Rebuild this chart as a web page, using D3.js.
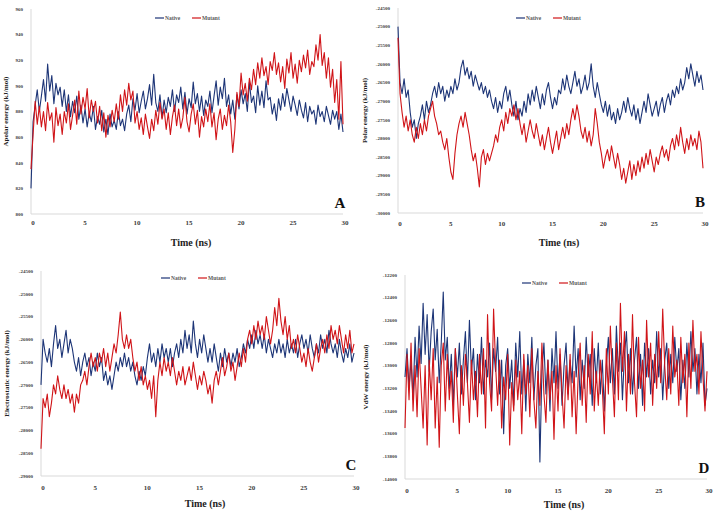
<!DOCTYPE html>
<html><head><meta charset="utf-8">
<script src="https://cdn.jsdelivr.net/npm/d3@7"></script>
<style>body{margin:0;background:#fff}svg{display:block}text{font-family:"Liberation Serif","Times New Roman",serif;font-weight:bold}</style>
</head><body>
<script>
// ---- data ----
const stepNs = 0.2; // sampling interval, t = 0 .. 30 ns
const seriesNames = ["Native", "Mutant"];
const xTicks = [0, 5, 10, 15, 20, 25, 30];

const apolarNative = [820,
872,885,897,880,892, 905,888,917,896,908, 886,902,893,899,884, 897,880,893,876,888, 879,892,874,885,871,
882,868,879,872,884, 866,876,870,881,864, 874,862,878,868,873, 866,880,869,874,865, 878,885,872,890,881,
894,879,888,896,882, 890,901,885,909,887, 880,893,875,889,879, 891,884,897,880,893, 887,899,882,895,878,
890,883,903,886,894, 880,892,877,889,884, 896,879,892,904,885, 899,890,906,884,893, 878,889,874,893,882,
897,886,894,880,903, 887,892,879,900,885, 896,883,904,889,891, 878,886,873,890,881, 894,884,898,889,880,
892,885,877,889,881, 875,887,872,884,878, 881,870,885,876,880, 872,884,877,870,881, 874,880,866,878,864];
const apolarMutant = [835,
862,888,870,884,868, 880,865,887,873,879, 856,883,869,878,862, 880,871,886,866,877, 889,870,896,878,891,
882,898,875,889,880, 888,871,884,865,879, 860,877,868,881,872, 886,874,893,880,897, 885,902,889,896,871,
880,866,875,862,878, 868,859,874,865,881, 870,887,874,882,866, 879,862,876,885,869, 882,867,875,891,872,
864,878,886,870,881, 860,876,868,882,872, 886,868,879,858,874, 882,866,877,869,885, 872,848,866,895,884,
910,893,902,888,906, 897,913,901,918,906, 922,908,915,901,919, 912,926,909,918,903, 915,898,921,910,926,
906,917,902,920,911, 924,914,928,909,919, 915,932,920,940,916, 926,906,922,899,913, 887,905,874,919,870];

const polarNative = [-25000,
-26500,-26800,-26400,-26900,-26700, -27300,-27700,-27500,-28000,-27600, -27400,-27100,-27500,-27000,-27300,
-27100,-26800,-26600,-26900,-26500, -26800,-26600,-27000,-26700,-26900, -26600,-26800,-26400,-26700,-26500,
-26100,-25900,-26300,-26100,-26400, -26200,-26600,-26300,-26500,-26700, -26500,-26800,-26600,-26900,-26700,
-27000,-27200,-26900,-27300,-27000, -27200,-26800,-26600,-27000,-26700, -27100,-27400,-27000,-27500,-27200,
-27400,-27000,-27300,-26800,-27100, -26700,-27000,-26600,-26900,-27200, -26800,-27100,-26700,-26500,-26900,
-27200,-26900,-27100,-26700,-26800, -26400,-26700,-26300,-26600,-26800, -26500,-26200,-26600,-26400,-26800,
-26600,-26300,-26700,-26500,-26000, -26600,-26900,-26500,-26800,-27100, -27300,-27000,-27400,-27100,-27500,
-27300,-27600,-27200,-27500,-27300, -27000,-27300,-26900,-27200,-27400, -27100,-27500,-27200,-27600,-27300,
-27000,-27300,-26800,-27100,-27400, -27200,-27000,-27400,-27100,-26900, -27300,-27000,-26800,-27100,-26700,
-26900,-26600,-26800,-26400,-26700, -26500,-26100,-26400,-26000,-26300, -26600,-26200,-26500,-26300,-26700];
const polarMutant = [-25300,
-26800,-27300,-27700,-27400,-27800, -27500,-27900,-28100,-27700,-28000, -27600,-27900,-27500,-27800,-27400,
-27200,-27000,-27400,-27600,-27900, -27800,-28100,-28300,-28000,-28500, -28900,-29100,-28400,-27900,-27600,
-27400,-27700,-27300,-27600,-27900, -28300,-28600,-28400,-28800,-29300, -28500,-28300,-28700,-28400,-28600,
-28400,-28200,-27900,-28100,-27700, -27500,-27800,-27300,-27600,-27200, -27400,-27100,-27500,-27200,-27600,
-27900,-27600,-28100,-27800,-27500, -27800,-28000,-27600,-27900,-28200, -27900,-28300,-28000,-27700,-28100,
-28400,-28100,-27800,-28300,-28000, -27700,-28000,-27600,-27900,-27500, -27200,-27500,-27100,-27400,-27800,
-28000,-27700,-28100,-27800,-28200, -27900,-27200,-27600,-28100,-28400, -28800,-28500,-28300,-28600,-28200,
-28500,-28800,-28400,-28700,-29100, -28800,-29200,-28900,-28600,-29100, -28700,-29000,-28600,-28900,-28500,
-28800,-28400,-28700,-28300,-28600, -28900,-28500,-28700,-28400,-28200, -28500,-28300,-28600,-28200,-28000,
-28300,-27900,-28200,-27700,-28100, -28400,-28000,-28300,-27900,-28200, -28000,-28300,-27800,-28100,-28800];

const elecNative = [-27000,
-26000,-26300,-26500,-26200,-26600, -26100,-25700,-26200,-26000,-26400, -26100,-25800,-26300,-26000,-26200,
-26500,-26700,-26400,-26800,-26500, -26300,-26600,-26400,-26800,-26500, -26700,-26300,-26600,-26400,-26900,
-26700,-27000,-26800,-27100,-26800, -26500,-26700,-26400,-26600,-26300, -26600,-26400,-26700,-26500,-26800,
-27000,-26700,-26900,-26600,-26800, -26400,-26100,-26500,-26300,-26600, -26200,-26500,-26100,-26400,-26200,
-26500,-26200,-26600,-26300,-26100, -26400,-26000,-26300,-25800,-26200, -25900,-26300,-25600,-26100,-26400,
-26000,-26300,-25900,-26200,-26500, -26200,-26500,-26100,-26400,-26700, -26300,-26600,-26200,-26500,-26300,
-26600,-26300,-26500,-26200,-26600, -26400,-26100,-26300,-26000,-26200, -25900,-26200,-25800,-26100,-25900,
-26200,-25900,-26300,-26000,-26200, -26400,-26100,-26300,-26000,-26300, -26100,-26400,-26000,-26300,-26100,
-26300,-26000,-26400,-26100,-25900, -26200,-26000,-26300,-25900,-26200, -26400,-26100,-26300,-25900,-26200,
-26000,-26300,-25800,-26100,-26300, -26100,-26400,-26000,-26300,-26500, -26200,-26400,-26100,-26500,-26300];
const elecMutant = [-28400,
-27300,-27500,-27200,-27700,-27400, -27000,-27200,-26800,-27100,-27300, -27000,-27300,-27100,-27400,-27200,
-27600,-27200,-27400,-27000,-26900, -26700,-27000,-26600,-26300,-26600, -26400,-26700,-26300,-26500,-26200,
-26600,-26300,-26700,-26400,-26100, -26300,-25900,-25400,-26000,-26200, -25900,-26200,-26000,-26400,-26700,
-26500,-26900,-26600,-27000,-26800, -27100,-26900,-27300,-26800,-27700, -26900,-26500,-26800,-26400,-26700,
-26500,-26800,-26400,-26700,-27000, -26700,-26900,-26600,-27000,-26800, -26600,-26900,-26500,-26800,-27100,
-26800,-27000,-26700,-26900,-27200, -27000,-27400,-26900,-26700,-27000, -26700,-26400,-26800,-26600,-26300,
-26700,-26500,-26900,-26600,-26300, -26600,-26200,-26500,-26000,-25800, -26100,-25700,-26000,-25600,-25900,
-25700,-26000,-25500,-25800,-26100, -25800,-25300,-25700,-25100,-25600, -25900,-25500,-26000,-25700,-26200,
-26000,-26300,-25900,-26200,-26500, -26300,-26600,-26200,-26500,-26700, -26400,-26100,-26500,-26200,-26000,
-26300,-25900,-26200,-25700,-26000, -25800,-26100,-25700,-26000,-26300, -25900,-26200,-25800,-26300,-26100];

const vdwNative = [-13100,
-12850,-13200,-12950,-13300,-12750, -13100,-12650,-12980,-12450,-12900, -12550,-13050,-12700,-12500,-12950,
-12680,-13150,-12800,-12350,-12950, -12750,-13200,-12900,-13350,-12850, -13100,-12800,-13250,-12950,-12700,
-13150,-12600,-13050,-12850,-13300, -12900,-13150,-12750,-13250,-12950, -13100,-12800,-13300,-12850,-13050,
-12750,-13250,-12950,-13600,-13000, -12850,-13200,-12950,-13350,-12800, -13100,-12700,-13250,-12950,-13400,
-12900,-13150,-12750,-13300,-13000, -12850,-13850,-13050,-12800,-13250, -12950,-13400,-12850,-13150,-12700,
-13200,-12900,-13350,-13000,-12800, -13250,-12950,-13150,-12650,-13100, -12850,-13300,-12950,-13200,-12750,
-13100,-12900,-13350,-12850,-13150, -12800,-13250,-12950,-13400,-13000, -12750,-13150,-12850,-13250,-12650,
-13050,-12800,-13300,-12900,-12700, -13150,-12850,-13250,-12950,-12750, -13200,-12900,-13350,-12800,-13100,
-12850,-13250,-12950,-13150,-12700, -13100,-12850,-13300,-12950,-12800, -13200,-12900,-13150,-12750,-13050,
-12850,-13300,-12950,-13200,-12800, -13100,-12700,-13050,-12850,-13250, -12900,-13150,-12800,-13350,-13200];
const vdwMutant = [-13550,
-12900,-13300,-12800,-13400,-13000, -13450,-12850,-13200,-13550,-13000, -13700,-12950,-13300,-12850,-13550,
-13100,-13720,-13000,-12800,-13400, -12900,-13300,-13050,-13500,-12850, -13250,-13600,-13000,-13350,-12900,
-13150,-13500,-12950,-13300,-13050, -13450,-12900,-13250,-12850,-13550, -12550,-13150,-13400,-12500,-13000,
-13350,-12950,-13550,-13100,-13300, -12900,-13700,-13150,-13400,-12950, -13300,-13050,-13600,-12900,-13250,
-13000,-13450,-12850,-13300,-13550, -13050,-13350,-12800,-13250,-13500, -12950,-13300,-13050,-13650,-13000,
-13400,-12850,-13250,-13550,-13000, -13300,-12900,-13450,-13050,-13600, -13100,-12800,-13350,-13000,-13500,
-12900,-13250,-12700,-13400,-13050, -13350,-12950,-13200,-13600,-12850, -13250,-12650,-13100,-13450,-12800,
-13300,-12450,-13050,-12700,-13400, -12900,-13250,-12550,-13150,-13450, -12750,-13200,-12950,-13400,-12600,
-13100,-12800,-13350,-12900,-13200, -12700,-13150,-12500,-13000,-13300, -12850,-13250,-12650,-13100,-12950,
-13350,-12750,-13150,-12900,-13450, -12800,-13200,-12600,-13050,-12900, -13250,-12700,-13100,-13400,-13050];

const apolarTicks = [800, 820, 840, 860, 880, 900, 920, 940, 960];
const polarTicks = [-30000,-29500,-29000,-28500,-28000,-27500,-27000,-26500,-26000,-25500,-25000,-24500];
const elecTicks = [-29000,-28500,-28000,-27500,-27000,-26500,-26000,-25500,-25000,-24500];
const vdwTicks = [-14000,-13800,-13600,-13400,-13200,-13000,-12800,-12600,-12400,-12200];

const colors = {Native: "#1d3577", Mutant: "#d01418"};

// ---- layout ----
const panels = [
  {native: apolarNative, mutant: apolarMutant, ticks: apolarTicks, title: "Apolar energy (kJ/mol)", letter: "A",
   x0: 31, x1: 343, yTop: 9, yBot: 214, yLabX: 6, legX: 155, legY: 18, xTickY: 223, timeX: 191, timeY: 242},
  {native: polarNative, mutant: polarMutant, ticks: polarTicks, title: "Polar energy (kJ/mol)", letter: "B",
   x0: 398, x1: 703, yTop: 8, yBot: 213, yLabX: 365, legX: 516, legY: 18, xTickY: 224, timeX: 559, timeY: 242},
  {native: elecNative, mutant: elecMutant, ticks: elecTicks, title: "Electrostatic energy (kJ/mol)", letter: "C",
   x0: 41, x1: 354, yTop: 271, yBot: 476, yLabX: 7, legX: 161, legY: 278, xTickY: 488, timeX: 205, timeY: 503},
  {native: vdwNative, mutant: vdwMutant, ticks: vdwTicks, title: "VdW energy (kJ/mol)", letter: "D",
   x0: 405, x1: 707, yTop: 275, yBot: 479, yLabX: 366, legX: 522, legY: 283, xTickY: 491, timeX: 564, timeY: 504}
];

const svg = d3.select("body").append("svg").attr("width", 718).attr("height", 515);
svg.append("rect").attr("width", 718).attr("height", 515).attr("fill", "#fff");

panels.forEach(p => {
  const g = svg.append("g");
  const x = d3.scaleLinear().domain([0, 30]).range([p.x0, p.x1]);
  const y = d3.scaleLinear().domain(d3.extent(p.ticks)).range([p.yBot, p.yTop]);

  // axes lines
  g.append("line").attr("x1", p.x0).attr("x2", p.x0).attr("y1", p.yTop).attr("y2", p.yBot)
    .attr("stroke", "#d9d9d9").attr("stroke-width", 1);
  g.append("line").attr("x1", p.x0).attr("x2", p.x1).attr("y1", p.yBot).attr("y2", p.yBot)
    .attr("stroke", "#d9d9d9").attr("stroke-width", 1);

  // y ticks
  g.selectAll("text.yt").data(p.ticks).join("text").attr("class", "yt")
    .attr("x", p.x0 - 8).attr("y", d => y(d)).attr("dy", "0.35em")
    .attr("text-anchor", "end").attr("font-size", 5).attr("fill", "#404040").text(d => d);
  // x ticks
  g.selectAll("text.xt").data(xTicks).join("text").attr("class", "xt")
    .attr("x", d => x(d) + 2).attr("y", p.xTickY).attr("dy", "0.35em")
    .attr("text-anchor", "middle").attr("font-size", 7).attr("fill", "#404040").text(d => d);

  // titles
  g.append("text").attr("x", p.timeX).attr("y", p.timeY).attr("dy", "0.35em").attr("text-anchor", "middle")
    .attr("font-size", 10).attr("fill", "#222").text("Time (ns)");
  g.append("text").attr("transform", `translate(${p.yLabX},${(p.yTop + p.yBot) / 2}) rotate(-90)`)
    .attr("dy", "0.35em").attr("text-anchor", "middle").attr("font-size", 7).attr("fill", "#222").text(p.title);
  g.append("text").attr("x", p.x1 - 3).attr("y", p.yBot - 6).attr("text-anchor", "middle")
    .attr("font-size", 15).attr("fill", "#111").text(p.letter);

  // series
  const line = d3.line().x((d, i) => x(i * stepNs)).y(d => y(d));
  [["Native", p.native], ["Mutant", p.mutant]].forEach(([name, vals]) => {
    g.append("path").datum(vals).attr("d", line).attr("fill", "none")
      .attr("stroke", colors[name]).attr("stroke-width", 1.1).attr("stroke-linejoin", "round");
  });

  // legend
  seriesNames.forEach((name, i) => {
    const lx = p.legX + i * 37;
    g.append("line").attr("x1", lx).attr("x2", lx + 9).attr("y1", p.legY).attr("y2", p.legY)
      .attr("stroke", colors[name]).attr("stroke-width", 1.2);
    g.append("text").attr("x", lx + 10).attr("y", p.legY).attr("dy", "0.35em")
      .attr("font-size", 5.5).attr("fill", "#595959").text(name);
  });
});
</script>
</body></html>
